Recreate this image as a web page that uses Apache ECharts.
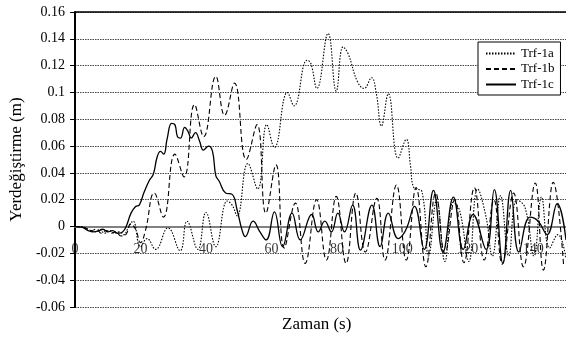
<!DOCTYPE html>
<html>
<head>
<meta charset="utf-8">
<script src="https://cdn.jsdelivr.net/npm/echarts@6/dist/echarts.min.js"></script>
<style>
html,body{margin:0;padding:0;background:#fff;}
#c{width:566px;height:338px;}
</style>
</head>
<body>
<div id="c"></div>
<script>
// ---- data ----
var seriesNames = ['Trf-1a', 'Trf-1b', 'Trf-1c'];
var yTicks = [-0.06, -0.04, -0.02, 0, 0.02, 0.04, 0.06, 0.08, 0.1, 0.12, 0.14, 0.16];
var xTicks = [0, 20, 40, 60, 80, 100, 120, 140];

var t1a = [0,2,4,6,7.5,9,10.5,12,13.5,15,16,17.7,20,22,24.6,28.4,32.1,34.2,37.5,40,43,46.5,48,49.5,52.8,55.8,58.6,60.9,64.9,66.9,70.9,72,73.9,77.3,79.8,81.9,83.4,86.3,88.3,90.6,92,93.6,95.7,98.7,101.2,102.5,103.5,106,108,110.5,113,115.5,117.5,120.3,123,125.5,127.5,130,132.5,135,137.5,140.2,142.5,145,147.5,150];
var v1a = [0,0,-0.002,-0.004,-0.002,-0.005,-0.003,-0.005,-0.004,-0.006,-0.002,0.004,-0.015,-0.009,-0.017,-0.001,-0.018,0.004,-0.017,0.0105,-0.015,0.019,0.016,0.008,0.047,0.028,0.076,0.059,0.1,0.09,0.124,0.122,0.103,0.144,0.101,0.134,0.129,0.108,0.103,0.111,0.1,0.075,0.099,0.051,0.065,0.045,0.029,0.026,-0.022,0.02,-0.026,0.018,0.012,-0.026,0.028,0.008,-0.022,0.023,-0.022,0.02,0.014,-0.022,0.022,-0.016,-0.006,-0.024];

var t1b = [0,3,5,6.5,8,9.5,11,12.5,14,15.5,17,18.5,20,21.5,24.2,27,30.5,33.3,36.5,39.3,43,45.7,48.7,52.3,55.6,58.3,61.4,63.9,67.3,70.3,73.8,76.8,79.8,82.8,85.8,88.7,92.2,94.7,98.2,101.2,104.2,107.2,110.2,113,116,118.8,122,125,128,130.5,134,137,140.6,143.1,146.1,149.3];
var v1b = [0,-0.001,-0.003,-0.002,-0.005,-0.003,-0.005,-0.004,-0.007,-0.006,0.002,-0.002,-0.012,-0.003,0.025,0.007,0.054,0.037,0.091,0.067,0.112,0.083,0.107,0.05,0.076,0.01,0.046,-0.016,0.0175,-0.0275,0.02,-0.025,0.0225,-0.0275,0.025,-0.019,0.021,-0.025,0.031,-0.025,0.029,-0.03,0.025,-0.02,0.02,-0.027,0.029,-0.025,0.02,-0.028,0.025,-0.03,0.0325,-0.0325,0.033,-0.03];

var t1c = [0,2,4,5.5,7,8.5,10,11.5,13,14.5,15.6,17.1,18.5,19.6,21,22.6,23.9,25.1,26.1,27.1,28.1,29.5,30.5,31.3,32.2,33.5,34.5,35.5,36.8,38,39.2,40.8,42,43,44,46,48,49.5,51,52,54.4,56.5,58.4,60.9,63.4,66.3,68.8,72.3,74.3,76.3,78.3,80.3,82.3,84.8,87.2,90.7,93.2,95.7,98.7,100.2,101.5,103.7,106.7,109.5,112.4,115.6,118.6,121.6,125.6,128.1,130.7,133.1,135.6,139,141.5,144.2,147.3,150];
var v1c = [0,-0.0005,-0.003,-0.004,-0.0035,-0.002,-0.004,-0.003,-0.005,-0.004,0,0.01,0.015,0.016,0.025,0.034,0.039,0.052,0.056,0.054,0.065,0.077,0.076,0.067,0.066,0.074,0.071,0.066,0.07,0.064,0.057,0.06,0.056,0.038,0.034,0.025,0.024,0.0125,-0.0025,-0.0075,0.004,-0.004,-0.01,0.011,-0.015,0.01,-0.01,0.009,-0.004,0.004,-0.004,0.01,-0.004,0.016,-0.0175,0.016,-0.015,0.01,-0.009,-0.006,0,0.015,-0.017,0.027,-0.019,0.022,-0.017,0.009,-0.017,0.0275,-0.0275,0.027,-0.019,0.007,0.004,-0.006,0.017,-0.01];

function zip(t, v) { return t.map(function (x, i) { return [x, v[i]]; }); }

var FONT = 'Liberation Serif';
var chart = echarts.init(document.getElementById('c'), null, {renderer: 'canvas'});

var lineTypes = [[1.5, 1.5], [5, 3], 'solid'];
var datasets = [zip(t1a, v1a), zip(t1b, v1b), zip(t1c, v1c)];

var lineSeries = seriesNames.map(function (n, i) {
  return {
    name: n, type: 'line', xAxisIndex: 0,
    data: datasets[i],
    symbol: 'none', showSymbol: false,
    smooth: 0.45,
    z: 3 + i,
    lineStyle: {color: '#000', width: i === 2 ? 1.3 : 1.1, type: lineTypes[i]},
    itemStyle: {color: '#000'}
  };
});

// x tick labels placed on the zero line (axis crosses at y = 0)
var tickLabelSeries = {
  name: 'xticks', type: 'scatter', xAxisIndex: 0,
  data: xTicks.map(function (x) { return [x, 0]; }),
  symbol: 'rect', symbolSize: 1, silent: true, z: 10,
  itemStyle: {color: 'rgba(0,0,0,0)'},
  label: {
    show: true, position: 'bottom', distance: 15,
    fontFamily: FONT, fontSize: 14, color: '#000',
    formatter: function (p) { return String(p.value[0]); }
  }
};

chart.setOption({
  animation: false,
  backgroundColor: '#fff',
  title: {
    text: 'Zaman (s)',
    left: 282, top: 316,
    padding: 0,
    textStyle: {fontFamily: FONT, fontSize: 17, fontWeight: 'normal', color: '#000'}
  },
  legend: {
    orient: 'vertical',
    left: 478, top: 42,
    data: seriesNames,
    itemWidth: 30, itemHeight: 14, itemGap: 2.5, itemTextGap: 4,
    padding: [5, 6, 4, 7],
    backgroundColor: '#fff',
    borderColor: '#000', borderWidth: 1,
    itemStyle: {color: 'transparent', borderWidth: 0, opacity: 0},
    textStyle: {fontFamily: FONT, fontSize: 13, color: '#000'}
  },
  grid: {left: 66, top: 12, width: 503, height: 295, containLabel: false},
  xAxis: [{
    type: 'value', min: 0, max: 150, interval: 20,
    axisLine: {show: true, onZero: true, lineStyle: {color: '#808080', width: 2}},
    axisTick: {show: false},
    splitLine: {show: false},
    axisLabel: {show: false}
  }, {
    type: 'value', min: 0, max: 150, position: 'top',
    axisLine: {show: true, onZero: false, lineStyle: {color: '#000', width: 1.5}},
    axisTick: {show: false}, axisLabel: {show: false}, splitLine: {show: false}
  }],
  yAxis: {
    type: 'value', min: -0.06, max: 0.16, interval: 0.02,
    name: 'Yerdeğiştirme (m)', nameLocation: 'middle', nameGap: 42,
    nameTextStyle: {fontFamily: FONT, fontSize: 17, color: '#000'},
    axisLine: {show: true, onZero: false, lineStyle: {color: '#000', width: 2}},
    axisTick: {show: true, length: 5, lineStyle: {color: '#000', width: 1}},
    splitLine: {show: true, lineStyle: {color: '#444', width: 1, type: [1.5, 1]}},
    axisLabel: {
      margin: 10, fontFamily: FONT, fontSize: 14, color: '#000',
      formatter: function (v) {
        var r = Math.round(v * 100) / 100;
        return yTicks.indexOf(r) >= 0 ? String(r) : '';
      }
    }
  },
  series: lineSeries.concat([tickLabelSeries])
});
</script>
</body>
</html>
